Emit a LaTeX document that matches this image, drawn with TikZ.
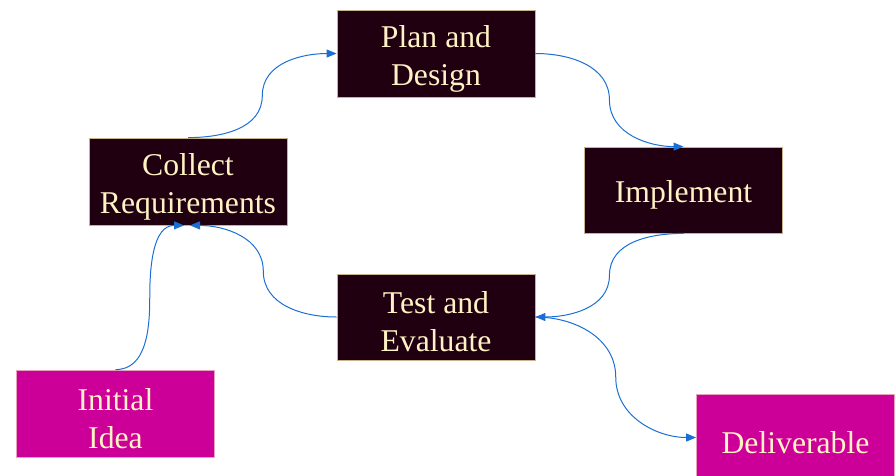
\documentclass[tikz,border=0pt]{standalone}
\usepackage{fontspec}
\setmainfont{Liberation Serif}
\usetikzlibrary{arrows.meta,calc}
\definecolor{darkbox}{HTML}{200010}
\definecolor{magbox}{HTML}{CC0099}
\definecolor{creamtext}{HTML}{FFF2C4}
\definecolor{tanline}{HTML}{C8B48C}
\definecolor{pinkline}{HTML}{E8A0C0}
\definecolor{arrowblue}{HTML}{1A6FD6}
\newcommand{\tstrut}{\rule{0pt}{32pt}}
\tikzset{
  stagebox/.style={draw=tanline, line width=0.8pt, fill=darkbox, text=creamtext,
    minimum width=198pt, minimum height=87pt, align=center, inner sep=0pt,
    font=\fontsize{31.7}{38}\selectfont},
  endbox/.style={stagebox, fill=magbox, draw=pinkline},
  flow/.style={draw=arrowblue, line width=1pt, -{Triangle[length=10pt,width=8pt]}}
}
\begin{document}
\begin{tikzpicture}[x=1pt,y=1pt]
\useasboundingbox (0,0) rectangle (896,-475);
\node[stagebox] (plan) at (436,-53.5) {\tstrut Plan and\\Design};
\node[stagebox] (collect) at (188,-181.5) {\tstrut Collect\\Requirements};
\node[stagebox, minimum height=86pt] (impl) at (683.5,-190) {\tstrut Implement};
\node[stagebox, minimum height=86pt] (test) at (436,-317) {\tstrut Test and\\Evaluate};
\node[endbox] (idea) at (115.5,-413.5) {\tstrut Initial\\Idea};
\node[endbox] (deliv) at (795.5,-437.5) {\tstrut Deliverable};
\coordinate (cin1) at ($(collect.south)+(-4,0)$);
\coordinate (cin2) at ($(collect.south)+(2,0)$);
\draw[flow] (collect.north) to[out=0,in=-90] ($(collect.north)!.5!(plan.west)$) to[out=90,in=180] (plan.west);
\draw[flow] (plan.east) to[out=0,in=90] ($(plan.east)!.5!(impl.north)$) to[out=-90,in=180] (impl.north);
\draw[flow] (impl.south) to[out=180,in=90] ($(impl.south)!.5!(test.east)$) to[out=-90,in=0] (test.east);
\draw[flow] (test.west) to[out=180,in=-90] ($(test.west)!.5!(cin2)$) to[out=90,in=0] (cin2);
\draw[flow] (idea.north) to[out=0,in=-90] ($(idea.north)!.5!(cin1)$) to[out=90,in=180] (cin1);
\draw[flow] (test.east) to[out=0,in=90] ($(test.east)!.5!(deliv.west)$) to[out=-90,in=180] (deliv.west);
\end{tikzpicture}
\end{document}
